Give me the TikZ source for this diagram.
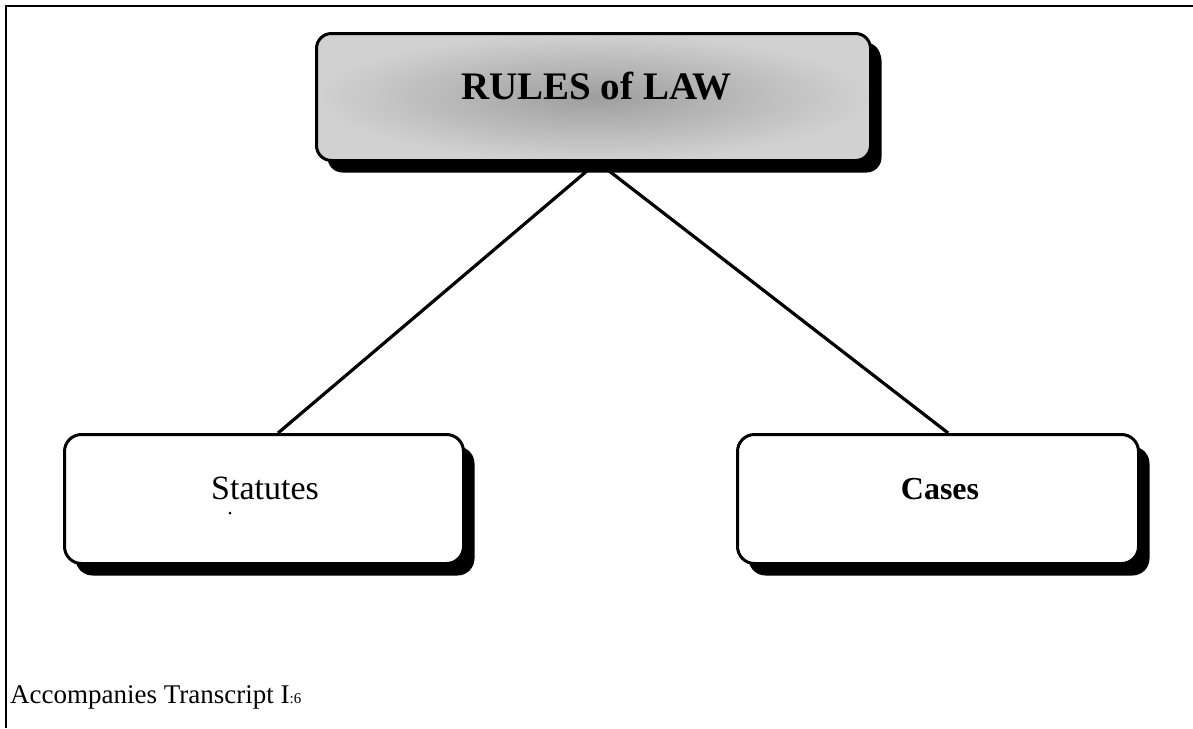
\documentclass[tikz,border=0pt]{standalone}
\usepackage{fontspec}
\setmainfont{Liberation Serif}
\usetikzlibrary{shadows,calc}

\tikzset{
  card/.style={draw=black, line width=3pt, rounded corners=17pt, fill=white,
    inner sep=0pt, minimum height=129pt,
    drop shadow={shadow xshift=11pt, shadow yshift=-12pt, fill=black, opacity=1}},
  headcard/.style={card, minimum width=554pt, minimum height=127pt, rounded corners=15pt,
    drop shadow={shadow xshift=10pt, shadow yshift=-9pt, fill=black, opacity=1},
    shading=radial, inner color=black!38, outer color=black!18},
  link/.style={draw=black, line width=3.2pt},
  frameline/.style={draw=black, line width=2pt},
  headfont/.style={font=\bfseries\fontsize{39}{44}\selectfont},
  leaffont/.style={font=\fontsize{34}{40}\selectfont},
  leafbold/.style={font=\bfseries\fontsize{32}{38}\selectfont},
}

\begin{document}
\begin{tikzpicture}[x=1pt, y=-1pt]
  \useasboundingbox (0,0) rectangle (1193,728);

  % page frame: top and left rules only
  \coordinate (fr0) at (6,728);
  \coordinate (fr1) at (6,6);
  \coordinate (fr2) at (1193,6);
  \draw[frameline] (fr0) -- (fr1) -- (fr2);

  % boxes
  \node[headcard] (rules) at (593.5,97) {};
  \node[card, minimum width=399pt] (stat) at (264,499) {};
  \node[card, minimum width=401pt] (cases) at (938,499) {};

  % box titles
  \node[headfont, anchor=base] (rulest) at ($(rules.center)+(3,2)$) {RULES of LAW};
  \node[leaffont, anchor=base] (statt) at ($(stat.center)+(1,0)$) {Statutes};
  \node[leafbold, anchor=base] (casest) at ($(cases.center)+(2,0)$) {Cases};

  % stray mark under the left label
  \fill (230,513) circle (1.5pt);

  % connectors
  \coordinate (apex) at ($(rules.south)+(4,0)$);
  \draw[link] (apex) -- ($(stat.north west)!0.535!(stat.north east)$);
  \draw[link] (apex) -- ($(cases.north west)!0.525!(cases.north east)$);

  % footer
  \node[anchor=base west, inner sep=0pt, font=\fontsize{27}{31}\selectfont] (foot) at (10,703)
    {Accompanies Transcript I\fontsize{15}{18}\selectfont:6};
\end{tikzpicture}
\end{document}
